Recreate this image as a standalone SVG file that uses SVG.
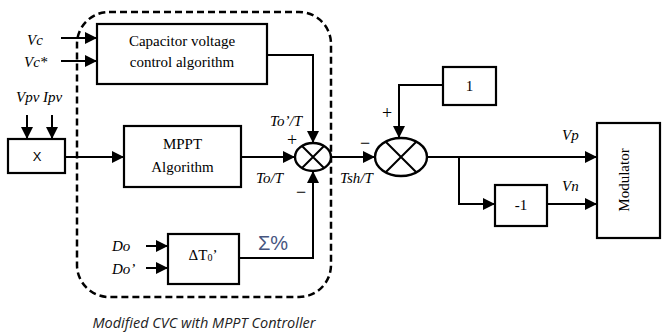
<svg xmlns="http://www.w3.org/2000/svg" width="662" height="334" viewBox="0 0 662 334">
<style>
.box{fill:#fff;stroke:#000;stroke-width:2.2}
.ln{fill:none;stroke:#000;stroke-width:2}
.sum{fill:#fff;stroke:#000;stroke-width:2.4}
.t{font-family:"Liberation Serif",serif;font-size:15px;fill:#000}
.i{font-family:"Liberation Serif",serif;font-size:15px;font-style:italic;fill:#000}
.s{font-family:"Liberation Serif",serif;font-size:18px;fill:#000}
.dash{fill:none;stroke:#000;stroke-width:2.5;stroke-dasharray:7 4}
</style>
<defs>
<marker id="ah" markerUnits="userSpaceOnUse" markerWidth="13" markerHeight="12" refX="12" refY="6" orient="auto">
<path d="M0,0 L12,6 L0,12 z" fill="#000"/>
</marker>
</defs>
<rect width="662" height="334" fill="#fff"/>

<g id="boundary">
<rect class="dash" x="77" y="12" width="254" height="285" rx="32" ry="32"/>
</g>

<g id="connectors">
<line class="ln" x1="61" y1="38" x2="97" y2="38" marker-end="url(#ah)"/>
<line class="ln" x1="61" y1="61" x2="97" y2="61" marker-end="url(#ah)"/>
<line class="ln" x1="27" y1="115" x2="27" y2="139" marker-end="url(#ah)"/>
<line class="ln" x1="52" y1="115" x2="52" y2="139" marker-end="url(#ah)"/>
<line class="ln" x1="65" y1="157" x2="124" y2="157" marker-end="url(#ah)"/>
<line class="ln" x1="241" y1="157" x2="295" y2="157" marker-end="url(#ah)"/>
<polyline class="ln" points="267,55 313,55 313,143" marker-end="url(#ah)"/>
<polyline class="ln" points="239,258 313,258 313,171" marker-end="url(#ah)"/>
<line class="ln" x1="146" y1="246" x2="168" y2="246" marker-end="url(#ah)"/>
<line class="ln" x1="146" y1="268" x2="168" y2="268" marker-end="url(#ah)"/>
<line class="ln" x1="331" y1="157" x2="375" y2="157" marker-end="url(#ah)"/>
<polyline class="ln" points="443,85 399,85 399,138" marker-end="url(#ah)"/>
<line class="ln" x1="427" y1="157" x2="597" y2="157" marker-end="url(#ah)"/>
<polyline class="ln" points="459,157 459,204 495,204" marker-end="url(#ah)"/>
<line class="ln" x1="547" y1="204" x2="597" y2="204" marker-end="url(#ah)"/>
</g>

<g id="capacitor">
<rect class="box" x="97" y="24" width="170" height="60"/>
<text class="t" x="182" y="46" text-anchor="middle">Capacitor voltage</text>
<text class="t" x="182" y="67" text-anchor="middle">control algorithm</text>
</g>

<g id="xbox">
<rect class="box" x="8" y="139" width="57" height="34"/>
<text x="37" y="161" text-anchor="middle" font-family="Liberation Sans, sans-serif" font-size="13">X</text>
</g>

<g id="mppt">
<rect class="box" x="124" y="126" width="117" height="61"/>
<text class="t" x="182.5" y="149" text-anchor="middle">MPPT</text>
<text class="t" x="182.5" y="172" text-anchor="middle">Algorithm</text>
</g>

<g id="deltaT">
<rect class="box" x="168" y="234" width="71" height="50"/>
<text class="t" x="203" y="260" text-anchor="middle">ΔT<tspan font-size="10" dy="1">0</tspan><tspan dy="-1">’</tspan></text>
</g>

<g id="sum1">
<ellipse class="sum" cx="313" cy="157" rx="18" ry="14"/>
<path class="ln" d="M302,146 L324,168 M324,146 L302,168"/>
</g>

<g id="sum2">
<ellipse class="sum" cx="401" cy="157" rx="26" ry="19"/>
<path class="ln" d="M385.7,141.7 L416.3,172.3 M416.3,141.7 L385.7,172.3"/>
</g>

<g id="one">
<rect class="box" x="443" y="67" width="53" height="38"/>
<text class="t" x="469.5" y="91" text-anchor="middle">1</text>
</g>

<g id="neg">
<rect class="box" x="495" y="185" width="52" height="41"/>
<text class="t" x="521" y="210" text-anchor="middle">-1</text>
</g>

<g id="modulator">
<rect class="box" x="597" y="123" width="63" height="115"/>
<text class="t" transform="translate(629,180) rotate(-90)" text-anchor="middle">Modulator</text>
</g>

<g id="labels">
<text class="i" x="27" y="45">Vc</text>
<text class="i" x="24" y="67">Vc*</text>
<text class="i" x="16" y="102">Vpv Ipv</text>
<text class="i" x="270" y="126">To’/T</text>
<text class="s" x="292" y="146" text-anchor="middle">+</text>
<text class="i" x="256" y="183">To/T</text>
<text class="s" x="301" y="198" text-anchor="middle">−</text>
<text class="i" x="340" y="183">Tsh/T</text>
<text class="s" x="365" y="149" text-anchor="middle">−</text>
<text class="s" x="387" y="119" text-anchor="middle">+</text>
<text class="i" x="562" y="140">Vp</text>
<text class="i" x="562" y="191">Vn</text>
<text class="i" x="112" y="251">Do</text>
<text class="i" x="112" y="274">Do’</text>
<text x="258" y="250" font-family="Liberation Sans, sans-serif" font-size="20" fill="#46557f">Σ%</text>
<text x="204" y="328" text-anchor="middle" font-family="Open Sans, sans-serif" font-size="14.5" font-style="italic" fill="#222">Modified CVC with MPPT Controller</text>
</g>
</svg>
